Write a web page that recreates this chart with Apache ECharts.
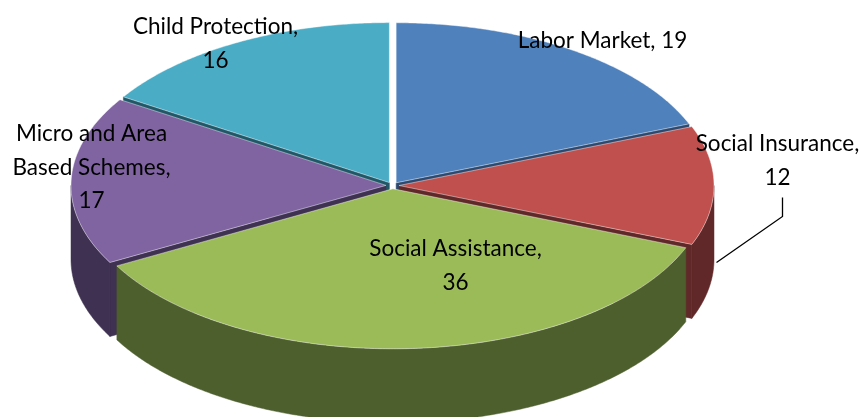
<!DOCTYPE html>
<html><head><meta charset="utf-8">
<script src="https://cdn.jsdelivr.net/npm/echarts@6/dist/echarts.min.js"></script>
<style>html,body{margin:0;padding:0;background:#fff}#c{width:866px;height:417px}</style>
</head><body><div id="c"></div>
<script>
// ---- data ----
const categories = ['Labor Market', 'Social Insurance', 'Social Assistance', 'Micro and Area Based Schemes', 'Child Protection'];
const values = [19, 12, 36, 17, 16];
// how each category name is wrapped in its label
const labelNames = ['Labor Market', 'Social Insurance', 'Social Assistance', 'Micro and Area\nBased Schemes', 'Child Protection'];
const labelValueOnNewLine = [false, true, true, true, true];

// ---- styles / layout ----
const topColors = ['#4F81BD', '#C0504D', '#9BBB59', '#8064A2', '#4BACC6'];
const sideColors = ['#2C4A70', '#602828', '#4E5F2E', '#3F3151', '#215868'];
const G = { cx: 392.5, cy: 185.5, rx: 315, ry: 160, depth: 74, explode: 6.5 };
// label block centres, offset from the pie centre (px)
const labelOffsets = [[210, -145], [385, -25], [63, 80], [-301, -18], [-177, -142]];
const leader = { idx: 1, pts: [[390, 12], [390, 31], [324, 77]] }; // relative to pie centre

const total = values.reduce((a, b) => a + b, 0);
const starts = [];
let acc = 0;
values.forEach(v => { starts.push(acc / total * 360); acc += v; });

const rad = d => d * Math.PI / 180;

function renderItem(params, api) {
  const i = params.dataIndex;
  const v = api.value(0);
  const a0 = starts[i], a1 = a0 + v / total * 360, m = (a0 + a1) / 2;
  const c = [G.cx + G.explode * Math.sin(rad(m)), G.cy - G.explode * (G.ry / G.rx) * Math.cos(rad(m))];
  const P = (t, dy) => [c[0] + G.rx * Math.sin(rad(t)), c[1] - G.ry * Math.cos(rad(t)) + (dy || 0)];
  const arc = (t0, t1, dy) => {
    const pts = [];
    const n = Math.max(2, Math.ceil((t1 - t0) / 0.5));
    for (let k = 0; k <= n; k++) pts.push(P(t0 + (t1 - t0) * k / n, dy));
    return pts;
  };
  const base = Math.round((-Math.cos(rad(m)) + 1) * 20) * 10;
  const children = [];
  const D = G.depth;
  // radial faces
  if (Math.sin(rad(a0)) < -1e-6) {
    const p = P(a0);
    children.push({ type: 'polygon', z2: base, shape: { points: [c, p, [p[0], p[1] + D], [c[0], c[1] + D]] },
      style: { fill: sideColors[i], stroke: sideColors[i], lineWidth: 0.5 } });
  }
  if (Math.sin(rad(a1)) > 1e-6) {
    const p = P(a1);
    children.push({ type: 'polygon', z2: base, shape: { points: [c, p, [p[0], p[1] + D], [c[0], c[1] + D]] },
      style: { fill: sideColors[i], stroke: sideColors[i], lineWidth: 0.5 } });
  }
  // outer wall (front half)
  const t0 = Math.max(a0, 90), t1 = Math.min(a1, 270);
  if (t1 > t0) {
    const top = arc(t0, t1, 0), bot = arc(t0, t1, D).reverse();
    children.push({ type: 'polygon', z2: base + 1, shape: { points: top.concat(bot) },
      style: { fill: sideColors[i], stroke: sideColors[i], lineWidth: 0.5 } });
  }
  // top face
  children.push({ type: 'polygon', z2: base + 2, shape: { points: [c].concat(arc(a0, a1, 0)) },
    style: { fill: topColors[i], stroke: 'rgba(255,255,255,0.55)', lineWidth: 0.8 } });
  // label
  const txt = labelNames[i] + ',' + (labelValueOnNewLine[i] ? '\n' : ' ') + v;
  const lo = labelOffsets[i];
  children.push({ type: 'text', z2: 1000, style: {
    text: txt, x: G.cx + lo[0], y: G.cy + lo[1], fill: '#000',
    fontSize: 22.5, fontFamily: 'Lato', lineHeight: 33.5,
    align: 'center', verticalAlign: 'middle', textAlign: 'center', textVerticalAlign: 'middle' } });
  if (i === leader.idx) {
    children.push({ type: 'polyline', z2: 1000, shape: { points: leader.pts.map(p => [G.cx + p[0], G.cy + p[1]]) },
      style: { stroke: '#000', lineWidth: 1.3, fill: null } });
  }
  return { type: 'group', children };
}

const chart = echarts.init(document.getElementById('c'), null, { renderer: 'canvas' });
chart.setOption({
  animation: false,
  series: [{
    type: 'custom',
    coordinateSystem: 'none',
    renderItem,
    data: categories.map((n, i) => ({ name: n, value: [values[i]] }))
  }]
});
</script>
</body></html>
